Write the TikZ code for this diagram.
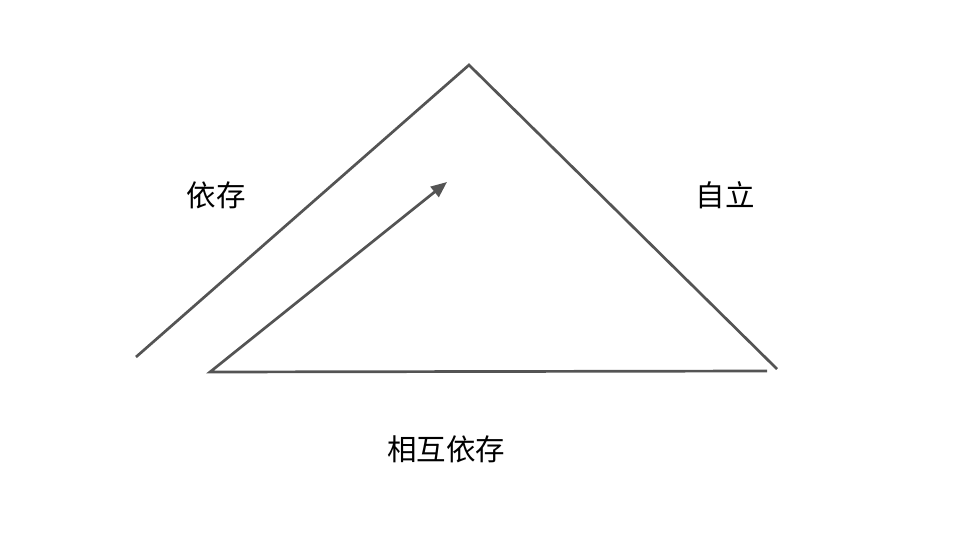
\documentclass[tikz,border=0pt]{standalone}
\usepackage{fontspec}
\newfontfamily\cjk{Noto Sans CJK SC}
\usetikzlibrary{arrows.meta}
\begin{document}
\begin{tikzpicture}[x=1pt, y=-1pt,
                line/.style={draw=black!67, line width=2.7pt},
                label/.style={font=\cjk\fontsize{29.5}{33}\selectfont, text=black}
            ]
            \useasboundingbox (0,0) rectangle (960,540);
            \coordinate (start) at (136,357);
            \coordinate (top) at (469,65);
            \coordinate (end) at (777,369);
            \coordinate (right) at (767,371);
            \coordinate (corner) at (210,372);
            \coordinate (tip) at (447,182);
            \draw[line] (start) -- (top) -- (end);
            \draw[line, -{Triangle[length=16pt, width=13pt]}] (right) -- (corner) -- (tip);
            \node[label] (dep) at (216,195) {依存};
            \node[label] (indep) at (725,195) {自立};
            \node[label] (inter) at (446,449) {相互依存};
        \end{tikzpicture}
\end{document}
